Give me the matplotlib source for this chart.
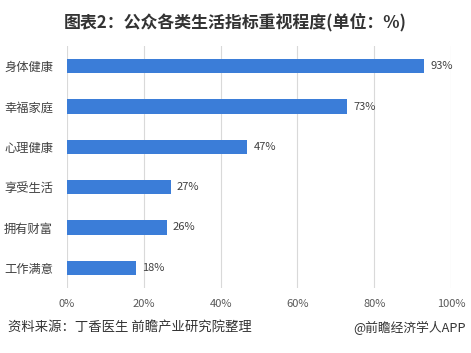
import matplotlib
matplotlib.use("Agg")
import matplotlib.pyplot as plt
from matplotlib.ticker import FuncFormatter

plt.rcParams["font.family"] = ["Noto Sans CJK SC", "DejaVu Sans"]

categories = ["身体健康", "幸福家庭", "心理健康", "享受生活", "拥有财富", "工作满意"]
values = [93, 73, 47, 27, 26, 18]
xticks = [0, 20, 40, 60, 80, 100]

fig = plt.figure(figsize=(4.71, 3.53), dpi=100)
ax = fig.add_axes([67 / 471, 1 - 288 / 353, 384 / 471, 242 / 353])

ypos = list(range(len(categories)))
ax.barh(ypos, values, height=0.36, color="#3B7DD8", zorder=3)
ax.set_ylim(len(categories) - 0.5, -0.5)
ax.set_yticks(ypos)
ax.set_yticklabels(categories, fontsize=8.8, color="#404040")
ax.set_xlim(0, 100)
ax.set_xticks(xticks)
ax.xaxis.set_major_formatter(FuncFormatter(lambda v, p: f"{v:.0f}%"))
ax.tick_params(axis="x", labelsize=8, colors="#595959", length=0, pad=8)
ax.tick_params(axis="y", length=0, pad=10)
ax.grid(axis="x", color="#D9D9D9", linewidth=0.8, zorder=0)
for s in ax.spines.values():
    s.set_visible(False)

for y, v in zip(ypos, values):
    ax.text(v + 1.6, y, f"{v}%", va="center", ha="left", fontsize=8, color="#404040")

fig.text(0.499, 1 - 22 / 353, "图表2：公众各类生活指标重视程度(单位：%)", ha="center", va="center",
         fontsize=12.2, fontweight="bold", color="#333333")
fig.text(8 / 471, 1 - 328 / 353, "资料来源：丁香医生 前瞻产业研究院整理", ha="left", va="center",
         fontsize=9.6, color="#333333")
fig.text(466 / 471, 1 - 328 / 353, "@前瞻经济学人APP", ha="right", va="center",
         fontsize=9.2, color="#333333")

fig.savefig("out.png", dpi=100)
